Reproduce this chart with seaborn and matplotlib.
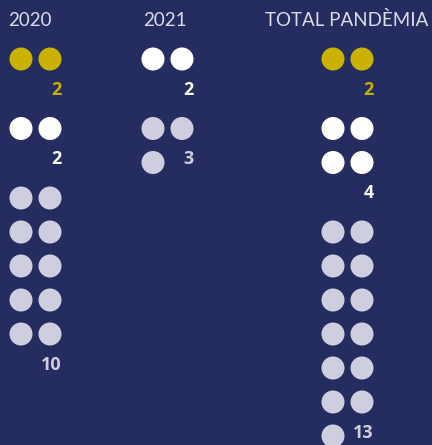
import pandas as pd
import matplotlib.pyplot as plt
import seaborn as sns

# dades
columns = ["2020", "2021", "TOTAL PANDÈMIA"]
groups = ["groc", "blanc", "gris"]
groc = [2, 0, 2]
blanc = [2, 2, 4]
gris = [10, 3, 13]

palette = {"groc": "#C9B300", "blanc": "#FFFFFF", "gris": "#CFCEDF"}
bg = "#252C5F"

# layout (pixels)
col_x = [21, 153, 333]
dx = 29
y0 = 59
dy = 34
gap = 1.5

sns.set_theme(style="white")
plt.rcParams["font.family"] = ["Lato", "DejaVu Sans"]

points = []
labels = []
for ci, col in enumerate(columns):
    y = y0
    for g, counts in zip(groups, [groc, blanc, gris]):
        n = counts[ci]
        if n == 0:
            continue
        for k in range(n):
            points.append({"x": col_x[ci] + (k % 2) * dx, "y": y + (k // 2) * dy, "group": g})
        last_y = y + ((n + 1) // 2 - 1) * dy
        if n % 2 == 0:
            ly = last_y + dy
        else:
            ly = last_y
        labels.append((col_x[ci] + dx + 12, ly - 3, str(n), palette[g]))
        y = ly + dy + gap

df = pd.DataFrame(points)

fig = plt.figure(figsize=(4.32, 4.45), dpi=100, facecolor=bg)
ax = fig.add_axes([0, 0, 1, 1])
ax.set_facecolor(bg)

sns.scatterplot(data=df, x="x", y="y", hue="group", palette=palette,
                s=275, linewidth=0, legend=False, ax=ax)

for x, y, t, c in labels:
    ax.text(x, y, t, color=c, fontsize=13, fontweight="bold",
            family=["Open Sans", "DejaVu Sans"], ha="right", va="center")

# títols
tcol = "#DCDCE8"
ax.text(col_x[0] - 13, 20, columns[0], color=tcol, fontsize=13.5,
        ha="left", va="center")
ax.text(col_x[1] - 10, 20, columns[1], color=tcol, fontsize=13.5,
        ha="left", va="center")
ax.text(428, 20, columns[2], color=tcol, fontsize=13.5,
        ha="right", va="center")

ax.set_xlim(0, 432)
ax.set_ylim(445, 0)
ax.axis("off")

fig.savefig("out.png", dpi=100, facecolor=bg)
